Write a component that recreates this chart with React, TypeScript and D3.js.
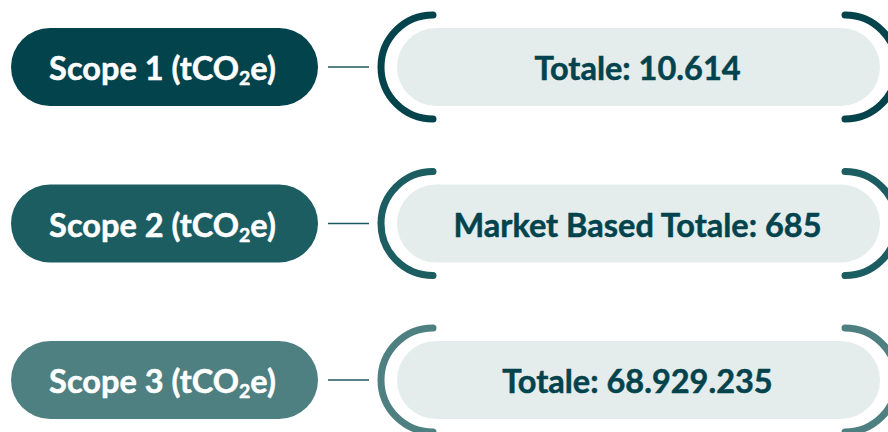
import React from "react";
import * as d3 from "d3";

const scopeNames = ["Scope 1", "Scope 2", "Scope 3"];
const unitMain = "(tCO";
const unitSub = "2";
const unitEnd = "e)";
const valueLabels = ["Totale: 10.614", "Market Based Totale: 685", "Totale: 68.929.235"];
const scopeColors = ["#02434c", "#1c5d62", "#4f8081"];

const W = 888;
const H = 432;
const FONT = "Lato, 'Open Sans', sans-serif";
const FS = 32.5;

export default function App() {
  const y = d3.scalePoint<string>().domain(scopeNames).range([67, 380]);

  const leftPill = { x0: 11, x1: 318 };
  const rightPill = { x0: 397, x1: 880 };
  const pillH = 78;
  const bracketR = 52;
  const leftBracketCx = 433;
  const rightBracketCx = 845;

  const leftArc = (cy: number) => {
    const p = d3.path();
    p.arc(leftBracketCx, cy, bracketR, -Math.PI / 2, Math.PI / 2, true);
    return p.toString();
  };
  const rightArc = (cy: number) => {
    const p = d3.path();
    p.arc(rightBracketCx, cy, bracketR, -Math.PI / 2, Math.PI / 2, false);
    return p.toString();
  };

  return (
    <svg
      width={W}
      height={H}
      viewBox={`0 0 ${W} ${H}`}
      style={{ position: "absolute", left: 0, top: 0, display: "block", background: "#ffffff" }}
    >
      {scopeNames.map((name, i) => {
        const cy = y(name) as number;
        const col = scopeColors[i];
        return (
          <g key={name}>
            <rect
              x={leftPill.x0}
              y={cy - pillH / 2}
              width={leftPill.x1 - leftPill.x0}
              height={pillH}
              rx={pillH / 2}
              fill={col}
            />
            <text
              x={(leftPill.x0 + leftPill.x1) / 2 - 2}
              y={cy + 13}
              textAnchor="middle"
              fill="#ffffff"
              fontFamily={FONT}
              fontWeight={700}
              fontSize={FS}
              stroke="#ffffff"
              strokeWidth={0.5}
            >
              {`${name} ${unitMain}`}
              <tspan fontSize={FS * 0.6} dy={5}>{unitSub}</tspan>
              <tspan dy={-5}>{unitEnd}</tspan>
            </text>
            <line
              x1={328}
              x2={369}
              y1={cy}
              y2={cy}
              stroke="#1f5a60"
              strokeWidth={1.5}
            />
            <rect
              x={rightPill.x0}
              y={cy - pillH / 2}
              width={rightPill.x1 - rightPill.x0}
              height={pillH}
              rx={pillH / 2}
              fill="#e4edec"
            />
            <path d={leftArc(cy)} fill="none" stroke={col} strokeWidth={7} strokeLinecap="round" />
            <path d={rightArc(cy)} fill="none" stroke={col} strokeWidth={7} strokeLinecap="round" />
            <text
              x={(rightPill.x0 + rightPill.x1) / 2 - 1}
              y={cy + 13}
              textAnchor="middle"
              fill="#03434d"
              fontFamily={FONT}
              fontWeight={700}
              fontSize={FS}
              stroke="#03434d"
              strokeWidth={0.5}
            >
              {valueLabels[i]}
            </text>
          </g>
        );
      })}
    </svg>
  );
}
